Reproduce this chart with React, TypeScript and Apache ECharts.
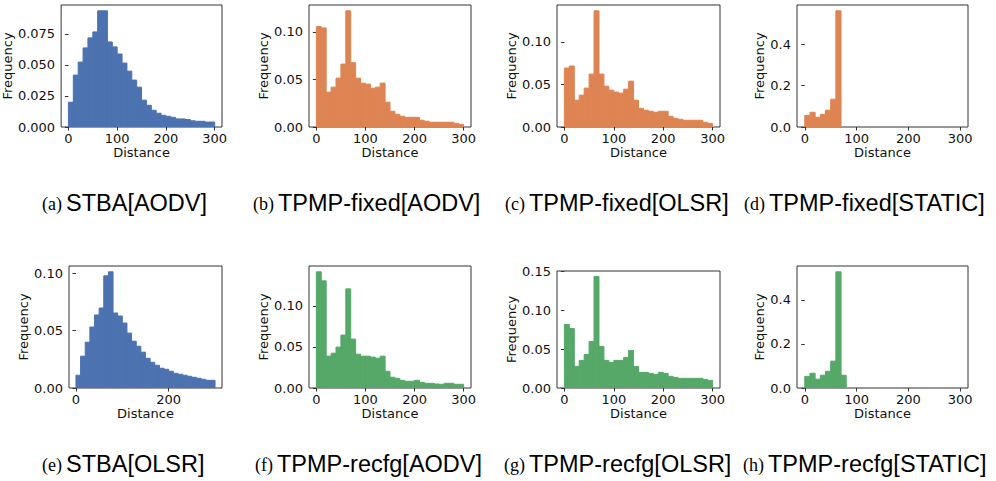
import React, { useEffect, useRef } from "react";
import * as echarts from "echarts";

// Histogram bin starts (width 10)
const binStarts = [0, 10, 20, 30, 40, 50, 60, 70, 80, 90, 100, 110, 120, 130, 140, 150, 160, 170, 180, 190, 200, 210, 220, 230, 240, 250, 260, 270, 280, 290];
const binWidth = 10;

const stbaAodv = [0.020, 0.0418, 0.0523, 0.0637, 0.0718, 0.0766, 0.0936, 0.0936, 0.0685, 0.0645, 0.0588, 0.0515, 0.0450, 0.0378, 0.0321, 0.0216, 0.0175, 0.0135, 0.0111, 0.0094, 0.0086, 0.0078, 0.0065, 0.0065, 0.0060, 0.0050, 0.0046, 0.0046, 0.0040, 0.0040];
const tpmpFixedAodv = [0.1056, 0.1042, 0.0366, 0.0419, 0.0514, 0.0662, 0.1222, 0.0676, 0.0514, 0.0461, 0.0451, 0.0408, 0.0419, 0.0461, 0.0261, 0.0165, 0.0134, 0.0113, 0.0102, 0.0102, 0.0102, 0.0070, 0.0060, 0.0050, 0.0050, 0.0050, 0.0050, 0.0050, 0.0039, 0.0028];
const tpmpFixedOlsr = [0.0693, 0.0717, 0.0315, 0.0374, 0.0457, 0.0622, 0.1366, 0.0622, 0.0480, 0.0433, 0.0410, 0.0398, 0.0445, 0.0539, 0.0315, 0.0220, 0.0197, 0.0185, 0.0173, 0.0185, 0.0185, 0.0126, 0.0102, 0.0090, 0.0079, 0.0079, 0.0079, 0.0079, 0.0055, 0.0043];
const tpmpFixedStatic = [0.056, 0.071, 0.047, 0.061, 0.081, 0.134, 0.56, 0, 0, 0, 0, 0, 0, 0, 0, 0, 0, 0, 0, 0, 0, 0, 0, 0, 0, 0, 0, 0, 0, 0];
const stbaOlsr = [0.0111, 0.0277, 0.0399, 0.0531, 0.0636, 0.0697, 0.0977, 0.1012, 0.0653, 0.0627, 0.0566, 0.0478, 0.0408, 0.0364, 0.0312, 0.0259, 0.0224, 0.0198, 0.0172, 0.0163, 0.0146, 0.0128, 0.0120, 0.0111, 0.0102, 0.0093, 0.0085, 0.0076, 0.0067, 0.0067];
const tpmpRecfgAodv = [0.1416, 0.1306, 0.0388, 0.0424, 0.0498, 0.0645, 0.1208, 0.0596, 0.0412, 0.0388, 0.0388, 0.0376, 0.0363, 0.0388, 0.0204, 0.0131, 0.0118, 0.0094, 0.0082, 0.0082, 0.0094, 0.0069, 0.0057, 0.0057, 0.0049, 0.0045, 0.0057, 0.0057, 0.0045, 0.0045];
const tpmpRecfgOlsr = [0.0816, 0.0765, 0.0278, 0.0355, 0.0432, 0.0598, 0.1432, 0.0534, 0.0355, 0.0329, 0.0355, 0.0355, 0.0393, 0.0483, 0.0278, 0.0201, 0.0201, 0.0188, 0.0175, 0.0201, 0.0188, 0.0150, 0.0137, 0.0124, 0.0124, 0.0124, 0.0124, 0.0124, 0.0111, 0.0098];
const tpmpRecfgStatic = [0.053, 0.067, 0.040, 0.058, 0.076, 0.122, 0.528, 0.058, 0, 0, 0, 0, 0, 0, 0, 0, 0, 0, 0, 0, 0, 0, 0, 0, 0, 0, 0, 0, 0, 0];

const xTicksFull = [0, 100, 200, 300];
const xTicksSparse = [0, 200];
const yTicksA = [0, 0.025, 0.05, 0.075];
const yTicksB = [0, 0.05, 0.1];
const yTicksG = [0, 0.05, 0.1, 0.15];
const yTicksS = [0, 0.2, 0.4];

const captionLetters = ["(a)", "(b)", "(c)", "(d)", "(e)", "(f)", "(g)", "(h)"];
const captionTitles = ["STBA[AODV]", "TPMP-fixed[AODV]", "TPMP-fixed[OLSR]", "TPMP-fixed[STATIC]", "STBA[OLSR]", "TPMP-recfg[AODV]", "TPMP-recfg[OLSR]", "TPMP-recfg[STATIC]"];

const BLUE = "#4C72B0";
const ORANGE = "#DD8452";
const GREEN = "#55A868";

const panels = [
  { values: stbaAodv, color: BLUE, xTicks: xTicksFull, yTicks: yTicksA, dec: 3, left: 60, right: 222, top: 5, bottom: 127, nameGap: 43 },
  { values: tpmpFixedAodv, color: ORANGE, xTicks: xTicksFull, yTicks: yTicksB, dec: 2, left: 309, right: 471, top: 5, bottom: 127, nameGap: 35 },
  { values: tpmpFixedOlsr, color: ORANGE, xTicks: xTicksFull, yTicks: yTicksB, dec: 2, left: 557, right: 720, top: 5, bottom: 127, nameGap: 35 },
  { values: tpmpFixedStatic, color: ORANGE, xTicks: xTicksFull, yTicks: yTicksS, dec: 1, left: 797, right: 968, top: 5, bottom: 127, nameGap: 28 },
  { values: stbaOlsr, color: BLUE, xTicks: xTicksSparse, yTicks: yTicksB, dec: 2, left: 69, right: 222, top: 266, bottom: 388, nameGap: 35 },
  { values: tpmpRecfgAodv, color: GREEN, xTicks: xTicksFull, yTicks: yTicksB, dec: 2, left: 309, right: 471, top: 266, bottom: 388, nameGap: 35 },
  { values: tpmpRecfgOlsr, color: GREEN, xTicks: xTicksFull, yTicks: yTicksG, dec: 2, left: 557, right: 720, top: 271, bottom: 388, nameGap: 35 },
  { values: tpmpRecfgStatic, color: GREEN, xTicks: xTicksFull, yTicks: yTicksS, dec: 1, left: 797, right: 968, top: 266, bottom: 388, nameGap: 27 },
];

const captionStartX = [66, 278, 529, 769, 66, 277, 529, 768];
const captionY = [203, 203, 203, 203, 464, 464, 464, 464];

const W = 996;
const H = 481;
const AXIS_FONT = "DejaVu Sans";
const TXT = "#111";
const FS = 13;

export default function App() {
  const ref = useRef<HTMLDivElement>(null);
  useEffect(() => {
    if (!ref.current) return;
    const chart = echarts.init(ref.current, undefined, { renderer: "svg", width: W, height: H });
    const grid: any[] = [];
    const xAxis: any[] = [];
    const yAxis: any[] = [];
    const series: any[] = [];
    panels.forEach((p, i) => {
      grid.push({
        left: p.left,
        top: p.top,
        width: p.right - p.left,
        height: p.bottom - p.top,
        show: true,
        borderColor: "#333",
        borderWidth: 1,
        backgroundColor: "transparent",
      });
      const ymax = Math.max(...p.values) * 1.05;
      xAxis.push({
        type: "value",
        gridIndex: i,
        min: -15,
        max: 315,
        name: "Distance",
        nameLocation: "middle",
        nameGap: 16,
        nameTextStyle: { fontFamily: AXIS_FONT, fontSize: FS, color: TXT },
        axisLine: { show: false },
        splitLine: { show: false },
        axisTick: { show: true, length: 3.5, lineStyle: { color: "#333" }, customValues: p.xTicks },
        axisLabel: { show: true, margin: 5, fontFamily: AXIS_FONT, fontSize: FS, color: TXT, customValues: p.xTicks, formatter: (v: number) => String(v) },
      });
      yAxis.push({
        type: "value",
        gridIndex: i,
        min: 0,
        max: ymax,
        name: "Frequency",
        nameLocation: "middle",
        nameGap: p.nameGap,
        nameTextStyle: { fontFamily: AXIS_FONT, fontSize: FS, color: TXT },
        axisLine: { show: false },
        splitLine: { show: false },
        axisTick: { show: true, length: 3.5, lineStyle: { color: "#333" }, customValues: p.yTicks },
        axisLabel: { show: true, margin: 6, fontFamily: AXIS_FONT, fontSize: FS, color: TXT, customValues: p.yTicks, formatter: (v: number) => v.toFixed(p.dec) },
      });
      const data = binStarts
        .map((b, j) => [b, b + binWidth, p.values[j]])
        .filter((d) => d[2] > 0);
      series.push({
        type: "custom",
        xAxisIndex: i,
        yAxisIndex: i,
        clip: true,
        silent: true,
        encode: { x: [0, 1], y: 2 },
        data,
        renderItem: (params: any, api: any) => {
          const x0 = api.value(0);
          const x1 = api.value(1);
          const y = api.value(2);
          const a = api.coord([x0, y]);
          const b = api.coord([x1, 0]);
          return {
            type: "rect",
            shape: { x: a[0], y: a[1], width: b[0] - a[0], height: b[1] - a[1] },
            style: { fill: p.color, stroke: p.color, lineWidth: 1 },
          };
        },
      });
    });
    const graphic: any[] = [];
    captionTitles.forEach((t, i) => {
      graphic.push({
        type: "text",
        x: captionStartX[i] - 4,
        y: captionY[i] + 1,
        style: {
          text: captionLetters[i],
          fontFamily: "Liberation Serif",
          fontSize: 18,
          fill: "#000",
          align: "right",
          verticalAlign: "middle",
        },
      });
      graphic.push({
        type: "text",
        x: captionStartX[i],
        y: captionY[i],
        style: {
          text: t,
          fontFamily: "Liberation Sans",
          fontSize: 23.5,
          fill: "#000",
          align: "left",
          verticalAlign: "middle",
        },
      });
    });
    chart.setOption({
      animation: false,
      backgroundColor: "#fff",
      grid,
      xAxis,
      yAxis,
      series,
      graphic,
    });
    return () => chart.dispose();
  }, []);
  return <div ref={ref} style={{ position: "absolute", left: 0, top: 0, width: W, height: H }} />;
}
